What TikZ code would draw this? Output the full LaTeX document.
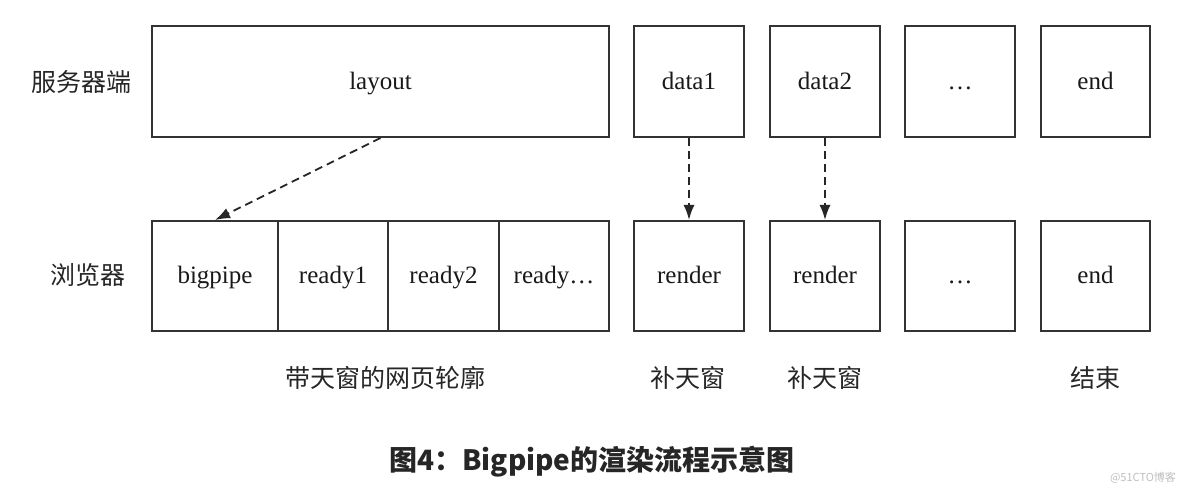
\documentclass[tikz,border=0pt]{standalone}
\usepackage{fontspec}
\setmainfont{Liberation Serif}
\newfontfamily\cjk{Noto Sans CJK SC}
\usetikzlibrary{arrows.meta,fit}
\begin{document}
\begin{tikzpicture}[x=0.5pt,y=-0.5pt,
  box/.style={draw=black!80, line width=1pt, inner sep=0pt},
  txt/.style={font=\fontsize{12.5}{14}\selectfont, text=black!90, anchor=base, inner sep=0pt},
  arr/.style={draw=black!85, line width=0.9pt, dash pattern=on 4pt off 2.5pt, -{Latex[length=7.5pt,width=5.5pt]}},
  lab/.style={font=\cjk\fontsize{12.5}{14}\selectfont, text=black!85},
]
\path[fill=white] (0,0) rectangle (1184,497);
% server row
\node[box, fit={(152,26) (609,137)}] (layout) {};
\node[box, fit={(634,26) (744,137)}] (data1) {};
\node[box, fit={(770,26) (880,137)}] (data2) {};
\node[box, fit={(905,26) (1015,137)}] (sdots) {};
\node[box, fit={(1041,26) (1150,137)}] (send) {};
% browser row
\node[box, fit={(152,221) (278,331)}] (bigpipe) {};
\node[box, fit={(278,221) (388,331)}] (ready1) {};
\node[box, fit={(388,221) (499,331)}] (ready2) {};
\node[box, fit={(499,221) (609,331)}] (readyn) {};
\node[box, fit={(634,221) (744,331)}] (render1) {};
\node[box, fit={(770,221) (880,331)}] (render2) {};
\node[box, fit={(905,221) (1015,331)}] (bdots) {};
\node[box, fit={(1041,221) (1150,331)}] (bend) {};
% box texts
\node[txt] (tlayout) at ([yshift=-4pt]layout.center) {layout};
\node[txt] (tdata1) at ([yshift=-4pt]data1.center) {data1};
\node[txt] (tdata2) at ([yshift=-4pt]data2.center) {data2};
\node[txt] (tsdots) at ([yshift=-4pt]sdots.center) {…};
\node[txt] (tsend) at ([yshift=-4pt]send.center) {end};
\node[txt] (tbigpipe) at ([yshift=-4pt]bigpipe.center) {bigpipe};
\node[txt] (tready1) at ([yshift=-4pt]ready1.center) {ready1};
\node[txt] (tready2) at ([yshift=-4pt]ready2.center) {ready2};
\node[txt] (treadyn) at ([yshift=-4pt]readyn.center) {ready…};
\node[txt] (trender1) at ([yshift=-4pt]render1.center) {render};
\node[txt] (trender2) at ([yshift=-4pt]render2.center) {render};
\node[txt] (tbdots) at ([yshift=-4pt]bdots.center) {…};
\node[txt] (tbend) at ([yshift=-4pt]bend.center) {end};
% arrows
\draw[arr] (layout.south) -- (bigpipe.north);
\draw[arr] (data1.south) -- (render1.north);
\draw[arr] (data2.south) -- (render2.north);
% side labels
\node[lab] (server) at (82,82) {服务器端};
\node[lab] (browser) at (87.5,275) {浏览器};
% bottom labels
\node[lab] (l1) at (385,378) {带天窗的网页轮廓};
\node[lab] (l2) at (688,378) {补天窗};
\node[lab] (l3) at (825,378) {补天窗};
\node[lab] (l4) at (1095,378) {结束};
% title
\node[font=\cjk\bfseries\fontsize{14}{16}\selectfont, text=black!85] (title) at (592,462) {图4：Bigpipe的渲染流程示意图};
\node[font=\cjk\fontsize{5.5}{6}\selectfont, text=black!25] (wm) at (1143,478) {@51CTO博客};
\end{tikzpicture}
\end{document}
